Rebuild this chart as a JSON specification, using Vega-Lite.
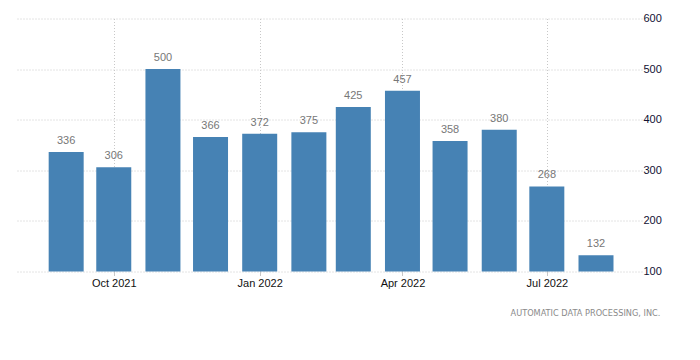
{
  "$schema": "https://vega.github.io/schema/vega-lite/v6.json",
  "autosize": "none",
  "width": 625,
  "height": 253,
  "padding": {"left": 17, "top": 18.5, "right": 58, "bottom": 88.5},
  "background": "white",
  "config": {
    "view": {"stroke": null},
    "font": "Liberation Sans"
  },
  "title": {
    "text": "AUTOMATIC DATA PROCESSING, INC.",
    "orient": "bottom",
    "anchor": "end",
    "fontSize": 8.2,
    "fontWeight": "normal",
    "color": "#8a8a8a",
    "font": "DejaVu Sans",
    "dx": -1,
    "offset": 21
  },
  "data": {
    "values": [
      {"date": "2021-09-01", "value": 336},
      {"date": "2021-10-01", "value": 306},
      {"date": "2021-11-01", "value": 500},
      {"date": "2021-12-01", "value": 366},
      {"date": "2022-01-01", "value": 372},
      {"date": "2022-02-01", "value": 375},
      {"date": "2022-03-01", "value": 425},
      {"date": "2022-04-01", "value": 457},
      {"date": "2022-05-01", "value": 358},
      {"date": "2022-06-01", "value": 380},
      {"date": "2022-07-01", "value": 268},
      {"date": "2022-08-01", "value": 132}
    ]
  },
  "encoding": {
    "x": {
      "field": "date",
      "type": "temporal",
      "scale": {
        "type": "utc",
        "padding": 0,
        "nice": false,
        "domain": [
          {"year": 2021, "month": 8, "date": 1, "utc": true},
          {"year": 2022, "month": 8, "date": 30, "utc": true}
        ]
      },
      "axis": {
        "title": null,
        "values": [
          {"year": 2021, "month": 10, "date": 1, "utc": true},
          {"year": 2022, "month": 1, "date": 1, "utc": true},
          {"year": 2022, "month": 4, "date": 1, "utc": true},
          {"year": 2022, "month": 7, "date": 1, "utc": true}
        ],
        "labelExpr": "utcFormat(datum.value, '%b %Y')",
        "grid": true,
        "gridColor": "#c8c8c8",
        "gridDash": [1, 2],
        "domain": false,
        "ticks": true,
        "tickSize": 4,
        "tickColor": "#c8c8c8",
        "labelFontSize": 11,
        "labelColor": "#111111",
        "labelPadding": 2,
        "labelFlush": false
      }
    },
    "y": {
      "field": "value",
      "type": "quantitative",
      "scale": {"domain": [100, 600], "nice": false, "zero": false},
      "axis": {
        "title": null,
        "orient": "right",
        "values": [100, 200, 300, 400, 500, 600],
        "grid": true,
        "gridColor": "#c8c8c8",
        "gridDash": [1, 2],
        "domain": false,
        "ticks": false,
        "labelFontSize": 11,
        "labelColor": "#111133",
        "labelPadding": 1
      }
    }
  },
  "layer": [
    {
      "mark": {"type": "bar", "size": 35, "color": "#4682b4", "clip": true}
    },
    {
      "mark": {"type": "text", "baseline": "bottom", "dy": -6, "fontSize": 11, "color": "#777777"},
      "encoding": {"text": {"field": "value", "type": "quantitative"}}
    }
  ]
}
